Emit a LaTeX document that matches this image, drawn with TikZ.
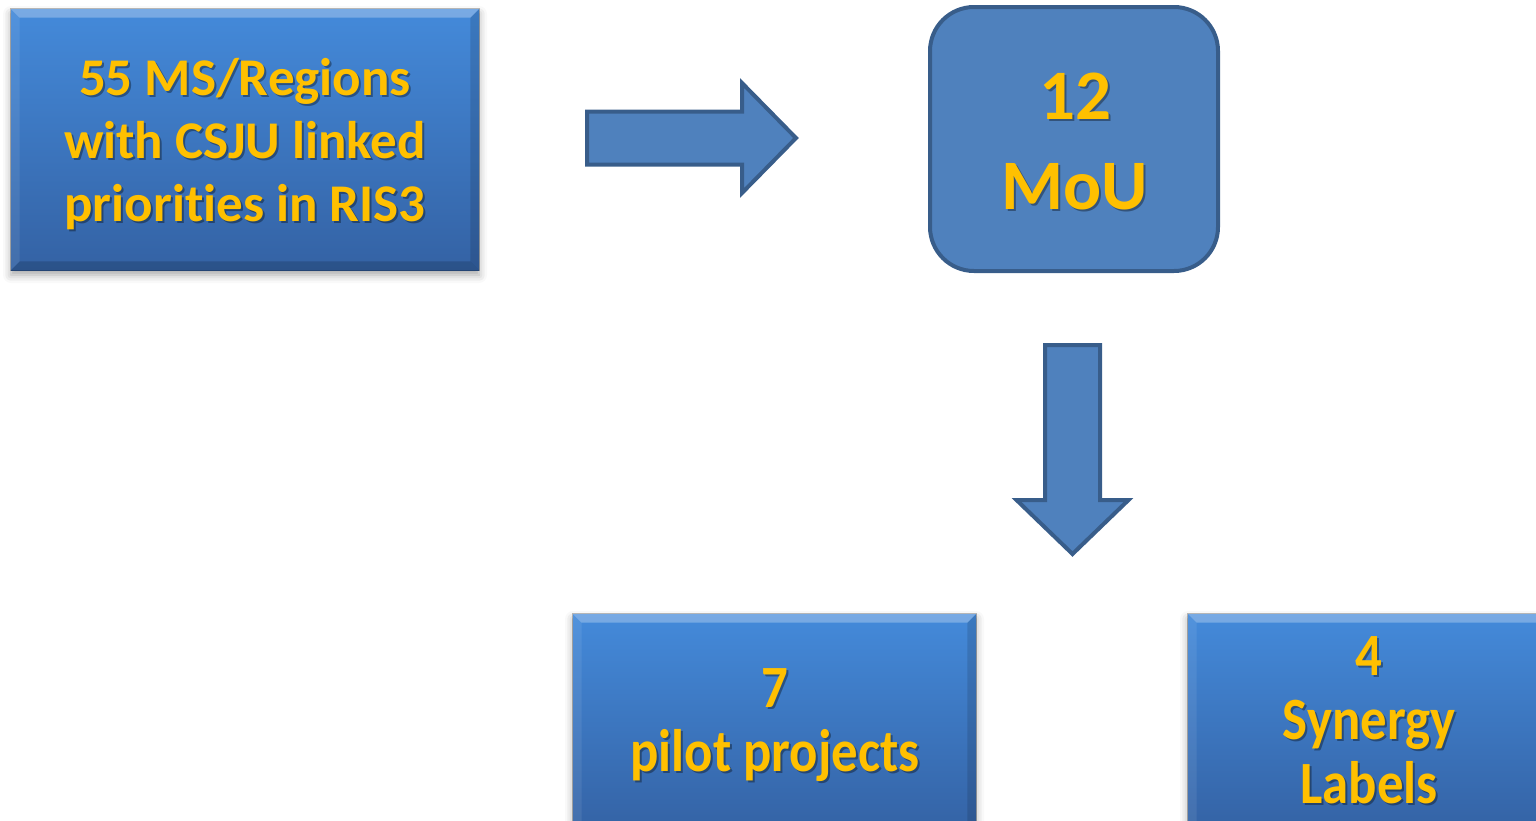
\documentclass[tikz,border=0pt]{standalone}
\usepackage{fontspec}
\setmainfont[Ligatures=NoCommon]{Carlito}
\newfontfamily\condfont[FakeStretch=0.88,Ligatures=NoCommon]{Carlito}
\usetikzlibrary{shadows.blur,calc}
\definecolor{boxtop}{RGB}{68,138,218}
\definecolor{boxbot}{RGB}{52,98,164}
\definecolor{moufill}{RGB}{79,129,189}
\definecolor{mouline}{RGB}{56,93,138}
\definecolor{txtyel}{RGB}{255,192,0}
\newcommand\shtext[4]{%
  \node[#3,text=black,text opacity=0.35] (#1s) at ($(#2)+(2,2)$) {#4};
  \node[#3] (#1) at (#2) {#4};}
\newcommand\bevel[1]{%
  \fill[white,opacity=0.28] (#1.north west) -- (#1.north east) -- ($(#1.north east)+(-9,9)$) -- ($(#1.north west)+(9,9)$) -- cycle;
  \fill[white,opacity=0.08] (#1.north west) -- ($(#1.north west)+(9,9)$) -- ($(#1.south west)+(9,-9)$) -- (#1.south west) -- cycle;
  \fill[black,opacity=0.12] (#1.north east) -- ($(#1.north east)+(-9,9)$) -- ($(#1.south east)+(-9,-9)$) -- (#1.south east) -- cycle;
  \fill[black,opacity=0.16] (#1.south west) -- ($(#1.south west)+(9,-9)$) -- ($(#1.south east)+(-9,-9)$) -- (#1.south east) -- cycle;
  \draw[black,opacity=0.25,line width=0.5pt] (#1.north west) rectangle (#1.south east);}
\tikzset{
  bevbox/.style={rectangle, inner sep=0pt, draw=none, top color=boxtop, bottom color=boxbot,
    blur shadow={shadow xshift=0pt, shadow yshift=-2.5pt, shadow opacity=35, shadow blur radius=4pt}},
  moubox/.style={rectangle, rounded corners=22pt, fill=moufill, draw=mouline, line width=2pt, inner sep=0pt},
  blockarrow/.style={fill=moufill, draw=mouline, line width=2pt, line join=miter},
  ytxt/.style={text=txtyel, align=center, inner sep=0pt, font=\bfseries\fontsize{26.5pt}{31.5pt}\selectfont},
  ytxtbig/.style={text=txtyel, align=center, inner sep=0pt, font=\bfseries\fontsize{35.5pt}{45pt}\selectfont},
  ytxtcond/.style={text=txtyel, align=center, inner sep=0pt, font=\condfont\bfseries\fontsize{30pt}{32pt}\selectfont}
}
\begin{document}
\begin{tikzpicture}[x=0.5pt,y=-0.5pt]
\useasboundingbox (0,0) rectangle (1536,820);
\clip (0,0) rectangle (1536,820);

% box 1
\node[bevbox, minimum width=234pt, minimum height=130.5pt] (b1) at (245,139.5) {};
\bevel{b1}
\shtext{t1}{245,144}{ytxt}{55 MS/Regions\\with CSJU linked\\priorities in RIS3}

% MoU box
\node[moubox, minimum width=144pt, minimum height=132pt] (mou) at (1074,139) {};
\shtext{t2}{1075,141}{ytxtbig}{12\\MoU}

% bottom boxes
\node[bevbox, minimum width=201.5pt, minimum height=110pt] (b3) at (774.5,724) {};
\bevel{b3}
\shtext{t3}{775,725}{ytxtcond}{7\\pilot projects}

\node[bevbox, minimum width=181pt, minimum height=110pt] (b4) at (1369,724) {};
\bevel{b4}
\shtext{t4}{1369,720}{ytxtcond}{4\\Synergy\\Labels}

% right block arrow
\coordinate (ra0) at (587,138);
\coordinate (ra1) at (796,138);
\draw[blockarrow] ($(ra0)+(0,-26.5)$) -- ($(ra1)+(-54,-26.5)$) -- ($(ra1)+(-54,-55)$) -- (ra1)
  -- ($(ra1)+(-54,55)$) -- ($(ra1)+(-54,26.5)$) -- ($(ra0)+(0,26.5)$) -- cycle;

% down block arrow
\coordinate (da0) at (1072.5,345);
\coordinate (da1) at (1072.5,554);
\draw[blockarrow] ($(da0)+(-27.5,0)$) -- ($(da0)+(27.5,0)$) -- ($(da1)+(27.5,-54)$) -- ($(da1)+(56,-54)$) -- (da1)
  -- ($(da1)+(-56,-54)$) -- ($(da1)+(-27.5,-54)$) -- cycle;
\end{tikzpicture}
\end{document}
